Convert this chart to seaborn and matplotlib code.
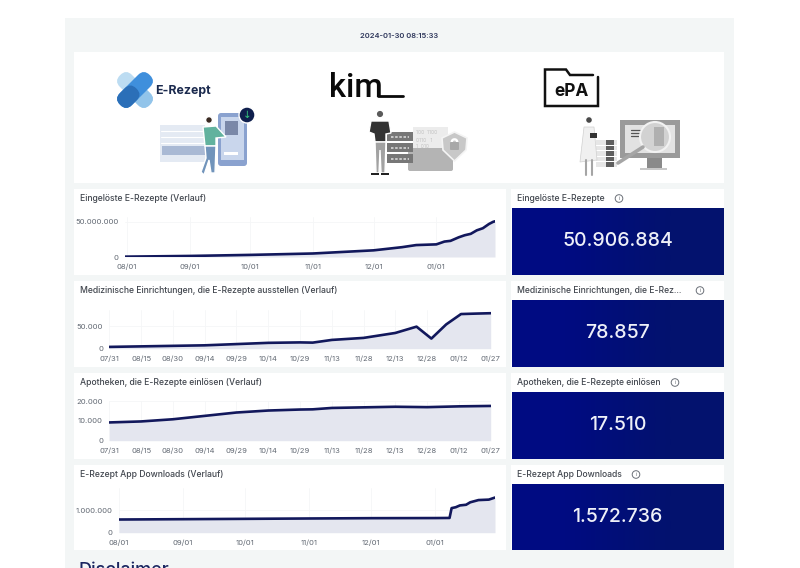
import pandas as pd

import matplotlib
matplotlib.use('Agg')
import matplotlib.dates as mdates
import matplotlib.pyplot as plt
import seaborn as sns
from matplotlib.colors import LinearSegmentedColormap
from matplotlib.patches import Circle, FancyBboxPatch, Polygon, Rectangle, Wedge
from matplotlib.ticker import FuncFormatter
from matplotlib.transforms import Affine2D

W, H = 800, 568
NAVY = '#12185c'
FILL = '#e4e6ef'
TITLE_C = '#42474f'
TICK_C = '#636a74'
KPI_CMAP = LinearSegmentedColormap.from_list('kpi', ['#000b82', '#03126e'])

rezepte_dates = ['2023-07-31', '2023-09-01', '2023-10-01', '2023-11-01', '2023-12-01', '2023-12-15',
                 '2023-12-22', '2024-01-01', '2024-01-05', '2024-01-08', '2024-01-12', '2024-01-15',
                 '2024-01-18', '2024-01-21', '2024-01-24', '2024-01-27', '2024-01-29', '2024-01-30']
rezepte_vals = [500000, 1500000, 3000000, 5000000, 9500000, 14000000,
                17000000, 18000000, 22000000, 23000000, 28000000, 31000000,
                33000000, 38000000, 41000000, 47000000, 50000000, 50906884]

einricht_dates = ['2023-07-31', '2023-09-14', '2023-10-14', '2023-10-29', '2023-11-04', '2023-11-13',
                  '2023-11-28', '2023-12-13', '2023-12-23', '2023-12-30', '2024-01-06', '2024-01-13',
                  '2024-01-20', '2024-01-27']
einricht_vals = [4000, 7500, 13000, 14000, 13500, 19500, 24000, 35000, 49000, 22500, 54000, 77000, 78000, 78857]

apo_dates = ['2023-07-31', '2023-08-15', '2023-08-30', '2023-09-14', '2023-09-29', '2023-10-14',
             '2023-10-29', '2023-11-04', '2023-11-13', '2023-11-28', '2023-12-13', '2023-12-28',
             '2024-01-12', '2024-01-27']
apo_vals = [9200, 9700, 10800, 12500, 14200, 15200, 15700, 15800, 16500, 16800, 17100, 16900, 17300, 17510]

app_dates = ['2023-08-01', '2023-09-01', '2023-10-01', '2023-11-01', '2023-12-01', '2024-01-01',
             '2024-01-08', '2024-01-09', '2024-01-11', '2024-01-13', '2024-01-16', '2024-01-18',
             '2024-01-22', '2024-01-27', '2024-01-30']
app_vals = [590000, 605000, 620000, 636000, 650000, 655000, 660000, 1100000, 1140000, 1220000,
            1250000, 1360000, 1460000, 1480000, 1572736]

monthly_ticks = ['2023-08-01', '2023-09-01', '2023-10-01', '2023-11-01', '2023-12-01', '2024-01-01']
biweekly_ticks = ['2023-07-31', '2023-08-15', '2023-08-30', '2023-09-14', '2023-09-29', '2023-10-14',
                  '2023-10-29', '2023-11-13', '2023-11-28', '2023-12-13', '2023-12-28', '2024-01-12',
                  '2024-01-27']

kpi_titles = ['Eingelöste E-Rezepte', 'Medizinische Einrichtungen, die E-Rez...',
              'Apotheken, die E-Rezepte einlösen', 'E-Rezept App Downloads']
kpi_values = ['50.906.884', '78.857', '17.510', '1.572.736']
kpi_info_x = [619, 700, 675, 636]

sns.set_theme(style='white')
plt.rcParams['font.family'] = ['Inter', 'DejaVu Sans']


def card(bg, x0, y0, x1, y1, color='white', zorder=1):
  bg.add_patch(Rectangle((x0, y0), x1 - x0, y1 - y0, fc=color, ec='none', zorder=zorder))


def rbox(bg, x, y, w, h, color, angle=0, pad=3, zorder=3, pivot=None):
  box = FancyBboxPatch((x, y), w, h, boxstyle=f'round,pad=0,rounding_size={pad}', fc=color, ec='none', zorder=zorder)
  if angle:
    cx, cy = pivot if pivot else (x + w / 2, y + h / 2)
    box.set_transform(Affine2D().rotate_deg_around(cx, cy, angle) + bg.transData)
  bg.add_patch(box)


def draw_rezept_art(bg):
  # x logo, centre at 135/90
  rbox(bg, 114, 81.5, 42, 17, '#bcdcf2', angle=45, pad=8)
  rbox(bg, 135, 81.5, 21, 17, '#92c4ea', angle=45, pad=8, pivot=(135, 90))
  rbox(bg, 114, 81.5, 42, 17, '#3f8fdc', angle=-45, pad=8, zorder=4)
  rbox(bg, 114, 81.5, 23, 17, '#2b6fb8', angle=-45, pad=8, zorder=5, pivot=(135, 90))
  bg.text(155, 91, 'E-Rezept', fontsize=8.9, fontweight='bold', color='#1b2a4e', va='center', zorder=5)
  # formular
  card(bg, 160, 125, 205, 162, '#e4eaf3', 3)
  for y in [131, 137, 143]:
    bg.plot([161, 204], [y, y], color='white', lw=0.8, zorder=4)
  card(bg, 162, 146, 205, 155, '#a9b9d4', 4)
  # telefon
  rbox(bg, 218, 113, 29, 53, '#8aa2cf', pad=3)
  card(bg, 221, 117, 244, 160, '#c9d6ec', 4)
  card(bg, 225, 121, 238, 135, '#7a88a8', 5)
  card(bg, 224, 152, 238, 155, 'white', 5)
  bg.add_patch(Circle((247, 115), 8, fc='#0f1f4d', zorder=6))
  bg.text(247, 115, '↓', color='#35c47c', fontsize=7.5, ha='center', va='center', zorder=7, family='DejaVu Sans')
  # person
  bg.add_patch(Circle((209, 120), 3.4, fc='#3a2a22', zorder=6))
  bg.add_patch(Polygon([(203, 127), (216, 126), (226, 137), (216, 138), (216, 146), (205, 146)], fc='#62b29e', zorder=6))
  bg.add_patch(Polygon([(205, 146), (216, 146), (215, 173), (211, 173), (209, 160), (204, 175), (201, 172), (206, 158)], fc='#7194bb', zorder=6))


def draw_kim_art(bg):
  bg.text(329, 97, 'kim', fontsize=23.5, fontweight='medium', color='#0a0a0a', va='baseline', zorder=3, family='Roboto')
  bg.plot([378, 403], [95.7, 95.7], color='#0a0a0a', lw=2, zorder=3)
  # person
  bg.add_patch(Circle((380, 114), 3.8, fc='#5a5a5a', zorder=6))
  bg.add_patch(Polygon([(371, 121), (389, 121), (391, 133), (386, 134), (386, 142), (375, 142), (374, 134), (369, 132)], fc='#333333', zorder=6))
  bg.add_patch(Polygon([(375, 142), (386, 142), (385, 173), (381, 173), (380, 150), (379, 173), (376, 173)], fc='#a2a2a2', zorder=6))
  card(bg, 371, 173, 379, 175, '#222222', 6)
  card(bg, 381, 173, 389, 175, '#222222', 6)
  # server, ordner, schild
  for y in [132, 143, 154]:
    card(bg, 387, y, 413, y + 9, '#777777', 4)
    bg.plot([391, 409], [y + 4.5, y + 4.5], color='#d8d8d8', lw=1.2, ls=(0, (1.5, 1)), zorder=5)
  card(bg, 413, 127, 448, 150, '#ececec', 3)
  for y, row in zip([133, 140, 147], ['100  1100', '0110   1', '1  010']):
    bg.text(416, y, row, fontsize=3.6, color='#c2c2c2', va='center', zorder=3.5)
  rbox(bg, 408, 148, 45, 23, '#b4b4b4', pad=2)
  bg.add_patch(Polygon([(442, 138), (454.5, 132), (467, 138), (466, 150), (454.5, 161), (443, 150)], fc='#c8c8c8', ec='#f4f4f4', lw=1.2, zorder=5))
  bg.add_patch(Wedge((454.5, 142), 3.2, 180, 360, width=1, fc='#444444', zorder=6))
  rbox(bg, 450, 142, 9, 8, '#a8a8a8', pad=1, zorder=6)


def draw_epa_art(bg):
  bg.plot([598, 598, 545, 545, 566, 570, 593], [77, 106, 106, 69.5, 69.5, 75, 75], color='#111111', lw=1.8, zorder=3, solid_joinstyle='miter')
  bg.text(572, 91, 'ePA', fontsize=12.5, fontweight='bold', color='#111111', ha='center', va='center', zorder=3)
  # aerztin
  bg.add_patch(Circle((589, 120), 3.5, fc='#4a4a4a', zorder=6))
  bg.add_patch(Polygon([(584, 127), (594, 127), (597, 160), (580, 162)], fc='#f0f0f0', ec='#d0d0d0', lw=0.5, zorder=6))
  card(bg, 590, 133, 597, 138, '#333333', 7)
  bg.plot([586, 586], [160, 175], color='#a5a5a5', lw=1.5, zorder=6)
  bg.plot([592, 592], [160, 175], color='#a5a5a5', lw=1.5, zorder=6)
  # ordner
  for y in [140, 145.5, 151, 156.5, 162]:
    card(bg, 596, y, 617, y + 4.5, '#e6e6e6', 4)
    card(bg, 606, y, 614, y + 4.5, '#5e5e5e', 4.5)
  # monitor mit lupe
  card(bg, 620, 120, 680, 158, '#9a9a9a', 3)
  card(bg, 625, 125, 675, 153, '#e2e2e2', 4)
  card(bg, 647, 158, 662, 168, '#8a8a8a', 3)
  card(bg, 640, 168, 667, 170, '#c8c8c8', 3)
  for y in [130, 133, 136]:
    bg.plot([631, 640], [y, y], color='#555555', lw=0.9, zorder=4.5)
  bg.add_patch(Circle((655, 137), 15, fc='#d2d2d2', ec='#f2f2f2', lw=1.5, zorder=5))
  card(bg, 654, 127, 664, 146, '#b0b0b0', 5.5)
  bg.plot([643, 618], [147, 163], color='#a5a5a5', lw=2.6, zorder=5)


def plot_verlauf(fig, dates, vals, box, xlim, ylim, xticks, yticks):
  # box is left, top, right, bottom in pixels of the reference
  left, top, right, bottom = box
  ax = fig.add_axes([left / W, 1 - bottom / H, (right - left) / W, (bottom - top) / H])
  ax.patch.set_alpha(0)
  df = pd.DataFrame({'date': pd.to_datetime(dates), 'value': vals})
  ax.fill_between(df['date'], df['value'], color=FILL, lw=0, zorder=2)
  sns.lineplot(data=df, x='date', y='value', ax=ax, color=NAVY, linewidth=1.9, zorder=3)
  ax.set_xlim(pd.to_datetime(xlim[0]), pd.to_datetime(xlim[1]))
  ax.set_ylim(*ylim)
  ax.set_xticks(pd.to_datetime(xticks))
  ax.set_yticks(yticks)
  ax.xaxis.set_major_formatter(mdates.DateFormatter('%m/%d'))
  ax.yaxis.set_major_formatter(FuncFormatter(lambda v, _: f'{v:,.0f}'.replace(',', '.')))
  ax.tick_params(axis='both', length=0, labelsize=5.5, labelcolor=TICK_C, pad=4.6)
  ax.set_xlabel('')
  ax.set_ylabel('')
  ax.grid(True, color='#f5f6f7', lw=0.6)
  ax.set_axisbelow(True)
  sns.despine(ax=ax, left=True, bottom=True)
  return ax


def main():
  fig = plt.figure(figsize=(W / 100, H / 100), dpi=100, facecolor='white')
  bg = fig.add_axes([0, 0, 1, 1])

  card(bg, 65, 18, 734, 568, '#f3f6f6', 0)
  card(bg, 74, 52, 724, 183)
  bg.text(399, 36, '2024-01-30 08:15:33', fontsize=5.4, fontweight='semibold', color='#2a3358', ha='center', va='center')
  draw_rezept_art(bg)
  draw_kim_art(bg)
  draw_epa_art(bg)

  chart_titles = ['Eingelöste E-Rezepte (Verlauf)', 'Medizinische Einrichtungen, die E-Rezepte ausstellen (Verlauf)',
                  'Apotheken, die E-Rezepte einlösen (Verlauf)', 'E-Rezept App Downloads (Verlauf)']
  tops = [189, 281, 373, 465]
  bottoms = [275, 367, 459, 550]
  for i, (t, b) in enumerate(zip(tops, bottoms)):
    card(bg, 74, t, 506, b)
    bg.text(80, t + 9.5, chart_titles[i], fontsize=6.2, fontweight='medium', color=TITLE_C, va='center')
    card(bg, 511, t, 724, b)
    bg.imshow([[0, 1]], extent=(512, 724, b, t + 19), aspect='auto', cmap=KPI_CMAP, interpolation='bilinear', zorder=2)
    bg.text(517, t + 9.5, kpi_titles[i], fontsize=6.2, fontweight='medium', color=TITLE_C, va='center')
    bg.add_patch(Circle((kpi_info_x[i], t + 9.5), 3.8, fc='none', ec='#6b7078', lw=0.7, zorder=3))
    bg.text(kpi_info_x[i], t + 9.5, 'i', fontsize=4, color='#6b7078', ha='center', va='center', zorder=3)
    bg.text(617.5, (t + 19 + b) / 2, kpi_values[i], fontsize=14, fontweight='medium', color='#eef0f8', ha='center', va='center', zorder=3)

  bg.text(79, 575, 'Disclaimer', fontsize=13, fontweight='medium', color='#1a2560', va='baseline', clip_on=True)

  # imshow moves the limits, so these come last
  bg.set_xlim(0, W)
  bg.set_ylim(H, 0)
  bg.axis('off')

  plot_verlauf(fig, rezepte_dates, rezepte_vals, (125, 217, 495, 257), ('2023-07-31', '2024-01-30'),
               (0, 57000000), monthly_ticks, [0, 50000000])
  plot_verlauf(fig, einricht_dates, einricht_vals, (109.3, 310, 490.7, 348.7), ('2023-07-31', '2024-01-27'),
               (0, 86000), biweekly_ticks, [0, 50000])
  plot_verlauf(fig, apo_dates, apo_vals, (109.3, 401, 490.7, 440.7), ('2023-07-31', '2024-01-27'),
               (0, 20000), biweekly_ticks, [0, 10000, 20000])
  plot_verlauf(fig, app_dates, app_vals, (119, 488, 495, 532.7), ('2023-08-01', '2024-01-30'),
               (0, 2000000), monthly_ticks, [0, 1000000])

  fig.savefig('out.png', dpi=100, facecolor='white')


if __name__ == '__main__':
  main()
